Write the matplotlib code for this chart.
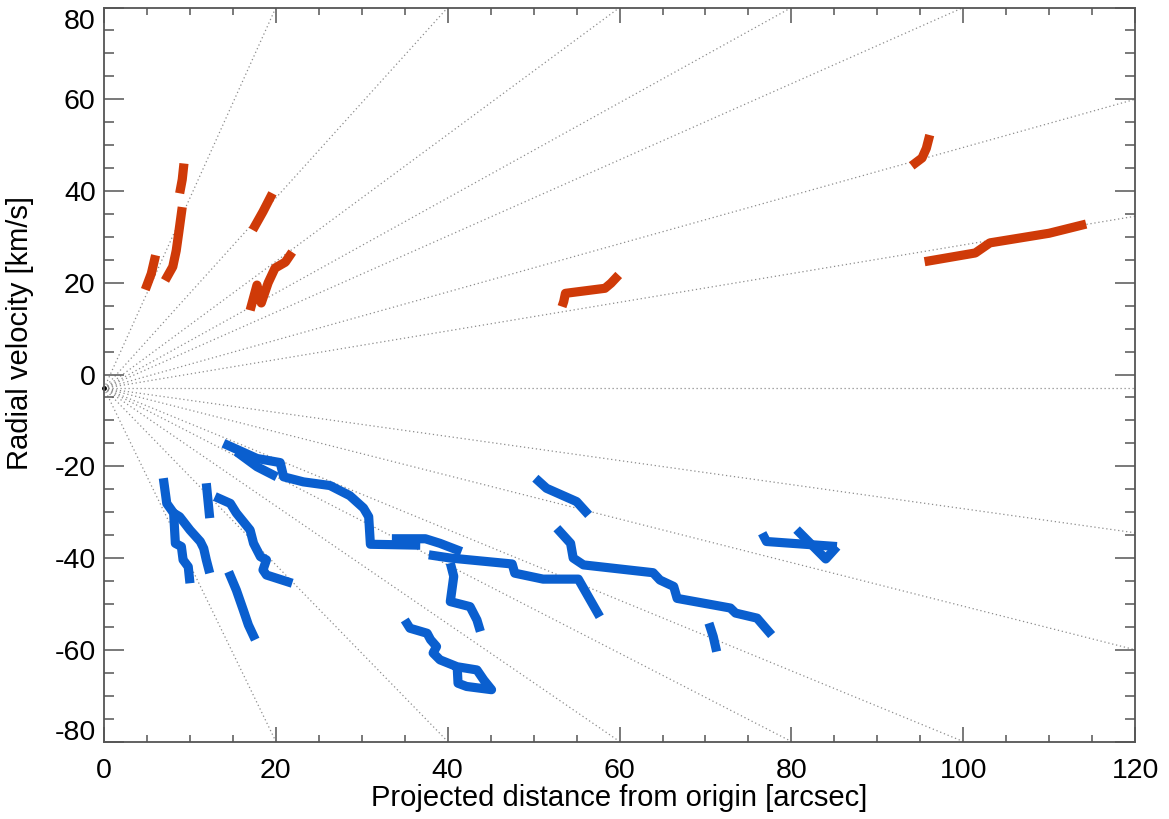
"""Radial velocity of tracked features against projected distance."""

import matplotlib
matplotlib.use('Agg')
import matplotlib.pyplot as plt
from matplotlib.ticker import MultipleLocator
from matplotlib.transforms import ScaledTranslation


# Data ------------------------------------------------------------------------

origin = (0, -3)  # common point of the dotted rays

ray_top_x = [20, 40, 60, 80, 100]        # rays ending on y = 80
ray_right_y = [60, 34.5, -3, -34.5, -60]  # rays ending on x = 120
ray_bottom_x = [20, 40, 60, 80, 100]     # rays ending on y = -80

# red (receding) tracks: (x, y) lists
red_tracks = [
    ([4.8, 5.5, 6.0], [18.5, 22.0, 26.0]),
    ([7.1, 8.0, 8.4, 8.7, 9.1], [20.5, 23.5, 27.0, 31.0, 36.5]),
    ([8.8, 9.1, 9.3], [39.5, 42.5, 46.0]),
    ([17.3, 18.5, 19.6], [31.5, 35.5, 39.5]),
    ([17.0, 17.8, 18.3, 19.1, 19.9, 21.1, 21.9],
     [14.0, 19.5, 15.6, 20.0, 23.2, 24.5, 26.7]),
    ([53.3, 53.5, 53.7, 58.3, 59.0, 59.9], [14.8, 15.9, 17.7, 18.8, 19.9, 21.7]),
    ([94.0, 95.2, 95.7, 96.1], [45.5, 47.2, 49.3, 52.2]),
    ([95.5, 101.4, 103.1, 110.0, 114.3], [24.6, 26.5, 28.7, 30.8, 32.8]),
]

# blue (approaching) tracks: (x, y) lists
blue_tracks = [
    ([13.9, 17.8, 20.5, 20.9, 23.2, 26.3, 28.6, 30.2, 30.8, 31.0, 36.8],
     [-15.0, -18.3, -19.2, -22.3, -23.4, -24.2, -26.4, -29.1, -31.0, -37.0, -37.2]),
    ([15.4, 17.8, 20.1], [-16.8, -20.1, -22.3]),
    ([33.5, 37.4, 39.1, 41.6], [-35.8, -35.8, -36.8, -38.6]),
    ([37.8, 40.3, 47.5, 47.8, 51.1, 55.2, 57.7],
     [-39.3, -40.0, -41.3, -43.3, -44.6, -44.6, -52.8]),
    ([40.3, 40.7, 40.3, 42.6, 43.4, 43.8], [-41.1, -44.0, -49.5, -50.6, -53.5, -56.0]),
    ([50.2, 51.5, 55.0, 56.4], [-22.6, -24.8, -27.7, -30.6]),
    ([52.7, 54.3, 54.6, 55.8, 63.9, 64.7, 66.3, 66.7, 72.9, 73.5, 76.0, 77.7],
     [-33.5, -36.8, -40.0, -41.5, -43.2, -44.8, -46.2, -48.8, -50.9, -52.0, -53.1, -56.8]),
    ([70.4, 70.9, 71.3], [-54.2, -57.1, -60.4]),
    ([76.6, 77.1, 85.3], [-34.6, -36.4, -37.5]),
    ([80.6, 84.0, 85.3], [-33.8, -40.2, -37.5]),
    ([35.0, 35.6, 37.6, 38.0, 38.7, 38.3, 39.1, 41.1, 43.4, 44.2, 45.1, 42.2, 41.2, 41.1],
     [-53.5, -55.3, -56.4, -57.8, -59.3, -60.7, -62.2, -63.7, -64.4, -66.6, -68.7,
      -68.0, -67.3, -63.7]),
    ([6.9, 7.3, 8.1, 8.3, 9.0, 9.2, 9.8, 10.0],
     [-22.6, -28.1, -30.2, -36.8, -37.5, -40.4, -41.9, -45.5]),
    ([8.1, 8.8, 10.0, 11.2, 11.6, 11.9, 12.3], [-30.2, -31.0, -33.9, -36.4, -37.9, -40.4, -43.3]),
    ([11.9, 12.3], [-23.7, -31.3]),
    ([12.9, 14.7, 15.4, 17.0, 17.4, 18.2, 18.9, 18.5, 18.9, 21.9],
     [-26.6, -28.1, -30.2, -33.9, -36.8, -39.7, -40.4, -42.6, -43.7, -45.5]),
    ([14.5, 15.4, 16.2, 16.8, 17.6], [-43.0, -47.0, -51.3, -54.6, -57.8]),
]

x_range = (0, 120)
y_range = (-80, 80)

colors = {'red': '#cf3a08', 'blue': '#0a5fcf', 'ray': '#8c8c8c', 'axis': '#555555'}


# Figure ---------------------------------------------------------------------

plt.rcParams['font.family'] = ['Liberation Sans', 'DejaVu Sans']
plt.rcParams['axes.unicode_minus'] = False  # plain hyphen as in the original

fig = plt.figure(figsize=(11.69, 8.19), dpi=100)
ax = fig.add_axes([0.089, 0.0946, 0.882, 0.8962])

# dotted rays from the origin
ends = ([(x, y_range[1]) for x in ray_top_x]
        + [(x_range[1], y) for y in ray_right_y]
        + [(x, y_range[0]) for x in ray_bottom_x])
for xe, ye in ends:
    ax.plot([origin[0], xe], [origin[1], ye], color=colors['ray'],
            lw=0.9, ls=(0, (1, 2.2)), zorder=1)
ax.plot(*origin, 'o', color='k', ms=2.5, zorder=2, clip_on=False)

for name, tracks in (('red', red_tracks), ('blue', blue_tracks)):
    for xs, ys in tracks:
        ax.plot(xs, ys, color=colors[name], lw=6.6, solid_capstyle='butt',
                solid_joinstyle='round', zorder=3)

ax.set_xlim(*x_range)
ax.set_ylim(*y_range)

ax.xaxis.set_major_locator(MultipleLocator(20))
ax.xaxis.set_minor_locator(MultipleLocator(5))
ax.yaxis.set_major_locator(MultipleLocator(20))
ax.yaxis.set_minor_locator(MultipleLocator(5))

for spine in ax.spines.values():
    spine.set_color(colors['axis'])
    spine.set_linewidth(1.3)

ax.tick_params(axis='both', which='both', direction='in', top=True, right=True,
               color=colors['axis'], width=1.1, labelsize=20.5, labelcolor='black')
ax.tick_params(axis='x', which='major', length=11, pad=12)
ax.tick_params(axis='x', which='minor', length=5)
ax.tick_params(axis='y', which='major', length=14.5, pad=6)
ax.tick_params(axis='y', which='minor', length=7)

ax.set_xlabel('Projected distance from origin [arcsec]', fontsize=21, labelpad=0)
ax.set_ylabel('Radial velocity [km/s]', fontsize=21)
ax.yaxis.set_label_coords(-0.068, 0.557)

# keep the end labels of the y axis inside the plot height, as in the original
fig.canvas.draw()
for tick in ax.yaxis.get_major_ticks():
    loc = tick.get_loc()
    if loc >= y_range[1]:
        shift = -8 / 72
    elif loc <= y_range[0]:
        shift = 8 / 72
    else:
        continue
    lab = tick.label1
    lab.set_transform(lab.get_transform()
                      + ScaledTranslation(0, shift, fig.dpi_scale_trans))

fig.savefig('out.png', dpi=100)
